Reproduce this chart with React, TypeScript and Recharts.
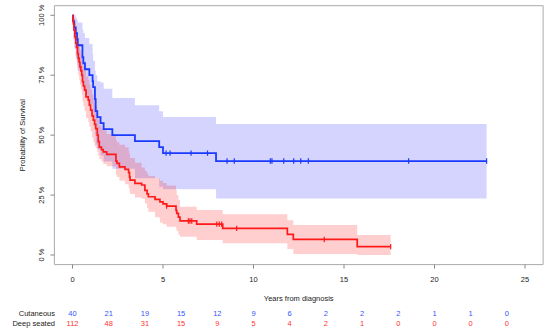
import {
  Area,
  ComposedChart,
  Line,
  ReferenceArea,
  Scatter,
  XAxis,
  YAxis,
} from "recharts";

// Kaplan-Meier estimates (years, % surviving)
const cutTime = [0, 0.03, 0.1, 0.18, 0.25, 0.29, 0.55, 0.6, 0.69, 0.93, 1.11, 1.14, 1.24, 1.28, 1.37, 1.55, 1.72, 2.2, 3.45, 4.79, 5.0, 7.93, 22.88];
const cutSurv = [100, 97.5, 95, 92.5, 90, 87.5, 82.5, 80, 77.5, 75, 72.5, 70, 65, 60, 57.5, 55, 52.5, 50, 47.5, 45, 42.5, 39.2, 39.2];
const cutLower = [100, 90, 86, 82, 79, 77, 72, 69, 66, 63, 60, 57, 50, 46, 44, 41.5, 39, 36, 32, 28.5, 27.4, 23.6, 23.6];
const cutUpper = [100, 100, 100, 99, 98, 97, 94, 92.5, 90.5, 88, 84, 81, 77, 75, 72.5, 72, 69.4, 65.5, 62.5, 60, 57.6, 54.6, 54.6];

const deepTime = [0, 0.02, 0.05, 0.08, 0.13, 0.18, 0.23, 0.28, 0.32, 0.37, 0.41, 0.46, 0.51, 0.55, 0.6, 0.67, 0.75, 0.87, 0.93, 1.0, 1.08, 1.15, 1.22, 1.28, 1.37, 1.42, 1.48, 1.6, 1.7, 1.89, 2.4, 2.46, 2.59, 2.9, 3.1, 3.15, 3.18, 3.45, 3.82, 4.0, 4.12, 4.19, 4.56, 4.83, 5.0, 5.2, 5.72, 5.76, 5.85, 5.94, 6.86, 8.3, 11.87, 12.2, 15.73, 17.58];
const deepSurv = [100, 98.2, 96.4, 93.75, 91.1, 88.4, 86.6, 84, 82, 80.4, 78.5, 76.8, 75, 72.3, 70.5, 68.8, 66, 64.6, 62.5, 60.4, 58, 56.3, 54.5, 52.7, 50, 47.3, 45, 44, 43, 42, 39.2, 38.2, 36.8, 35.7, 34.4, 32.5, 31.2, 29.9, 29.2, 27, 25.5, 24.3, 23.2, 22.2, 21.3, 20.4, 18.6, 17.4, 15.8, 14.2, 12.9, 11.1, 8.6, 6.5, 3.5, 3.5];
const deepLower = [100, 96.5, 93.5, 90, 86.5, 83, 80.5, 77.5, 75, 73, 71, 69, 67, 64, 62, 60, 57, 55.5, 53.5, 51.5, 49, 47, 45.5, 44.5, 43, 41.5, 40, 39, 38, 37, 33.5, 32.5, 31, 29.5, 28, 26.5, 25.5, 24, 23.5, 21.5, 19.5, 18, 15.8, 13.5, 12.8, 11.8, 11, 10, 8.5, 7.6, 6.25, 4.9, 2.5, 0.4, 0, 0];
const deepUpper = [100, 100, 99.5, 98.5, 96.5, 94.5, 92.5, 90.5, 88.5, 87, 85.5, 84, 82, 80, 78.5, 77, 74.5, 73, 71, 69, 67, 65, 63.5, 62, 59, 56.5, 54, 53, 52, 50.5, 48, 47, 46, 45, 43.5, 42, 40.5, 38.5, 36.5, 35, 34, 33, 32, 31, 30, 29, 27, 25, 23, 20.1, 18.75, 17, 14.5, 12.5, 8.3, 8.3];

// censored observations
const cutCensTime = [5.17, 5.39, 6.55, 7.46, 8.54, 8.94, 10.93, 11.02, 11.67, 12.22, 12.61, 13.03, 18.57, 22.88];
const cutCensSurv = [42.5, 42.5, 42.5, 42.5, 39.2, 39.2, 39.2, 39.2, 39.2, 39.2, 39.2, 39.2, 39.2, 39.2];
const deepCensTime = [5.2, 6.4, 6.49, 6.59, 7.97, 8.11, 8.24, 9.07, 13.91, 17.58];
const deepCensSurv = [20.4, 14.2, 14.2, 14.2, 12.9, 12.9, 12.9, 11.1, 6.5, 3.5];

// numbers at risk
const riskTimes = [0, 2, 4, 6, 8, 10, 12, 14, 16, 18, 20, 22, 24];
const riskCut = [40, 21, 19, 15, 12, 9, 6, 2, 2, 2, 1, 1, 0];
const riskDeep = [112, 48, 31, 15, 9, 5, 4, 2, 1, 0, 0, 0, 0];

const yearTicks = [0, 5, 10, 15, 20, 25];
const survTicks = [0, 25, 50, 75, 100];

const BLUE = "#1a3aff";
const RED = "#ff1a1a";
const FONT = 7.5;

const toRows = (t: number[], s: number[], lo: number[], hi: number[]) =>
  t.map((x, i) => ({ t: x, s: s[i], band: [lo[i], hi[i]] }));
const toPoints = (t: number[], s: number[]) => t.map((x, i) => ({ t: x, s: s[i] }));

const cutRows = toRows(cutTime, cutSurv, cutLower, cutUpper);
const deepRows = toRows(deepTime, deepSurv, deepLower, deepUpper);
const cutCens = toPoints(cutCensTime, cutCensSurv);
const deepCens = toPoints(deepCensTime, deepCensSurv);

const xTicks = Array.from(new Set([...yearTicks, ...riskTimes])).sort((a, b) => a - b);

function XTick({ x, y, payload }: any) {
  const v = payload.value;
  const ri = riskTimes.indexOf(v);
  return (
    <g>
      {yearTicks.includes(v) && (
        <>
          <line x1={x} x2={x} y1={y} y2={y + 4} stroke="#888" />
          <text x={x} y={y + 17.6} textAnchor="middle" fontSize={FONT} fill="#222">
            {v}
          </text>
        </>
      )}
      {ri >= 0 && (
        <>
          <text x={x} y={y + 51.2} textAnchor="middle" fontSize={FONT} fill="#3355ff">
            {riskCut[ri]}
          </text>
          <text x={x} y={y + 60.9} textAnchor="middle" fontSize={FONT} fill="#ff3333">
            {riskDeep[ri]}
          </text>
        </>
      )}
      {v === 0 && (
        <>
          <text x={x - 17.5} y={y + 51.2} textAnchor="end" fontSize={FONT} fill="#222">
            Cutaneous
          </text>
          <text x={x - 17.5} y={y + 60.9} textAnchor="end" fontSize={FONT} fill="#222">
            Deep seated
          </text>
        </>
      )}
    </g>
  );
}

function YTick({ x, y, payload }: any) {
  return (
    <g>
      <text x={x} y={y} transform={`rotate(-90 ${x} ${y})`} textAnchor="middle" fontSize={FONT} fill="#222">
        {`${payload.value} %`}
      </text>
      {payload.value === 50 && (
        <text x={25} y={y} transform={`rotate(-90 25 ${y})`} textAnchor="middle" fontSize={FONT} fill="#222">
          Probability of Survival
        </text>
      )}
    </g>
  );
}

const censorMark = (color: string) => (p: any) =>
  <line x1={p.cx} x2={p.cx} y1={p.cy - 2.7} y2={p.cy + 2.7} stroke={color} strokeWidth={1.2} />;

export default function App() {
  return (
    <div
      style={{
        position: "absolute",
        left: 0,
        top: 0,
        width: 550,
        height: 336,
        background: "#fff",
        fontFamily: "'Liberation Sans', Arial, sans-serif",
      }}
    >
      <ComposedChart width={550} height={336} margin={{ top: 5.7, right: 6.9, left: 0, bottom: 0 }}>
        <XAxis
          type="number"
          dataKey="t"
          domain={[-1, 26]}
          ticks={xTicks}
          interval={0}
          allowDataOverflow
          height={71.4}
          axisLine={false}
          tickLine={false}
          tickSize={0}
          tickMargin={0}
          tick={<XTick />}
          label={{ value: "Years from diagnosis", position: "insideTop", offset: 30.6, fontSize: FONT, fill: "#222" }}
        />
        <YAxis
          type="number"
          domain={[-4, 104]}
          ticks={survTicks}
          allowDataOverflow
          width={54.4}
          axisLine={false}
          tickSize={4}
          tickMargin={6.4}
          tickLine={{ stroke: "#888" }}
          tick={<YTick />}
        />
        <ReferenceArea x1={-1} x2={26} y1={-4} y2={104} fill="none" stroke="#aaa" strokeWidth={1} />
        <Area
          data={cutRows}
          dataKey="band"
          type="stepAfter"
          stroke="none"
          fill="#0000ff"
          fillOpacity={0.17}
          isAnimationActive={false}
        />
        <Area
          data={deepRows}
          dataKey="band"
          type="stepAfter"
          stroke="none"
          fill="#ff0000"
          fillOpacity={0.19}
          isAnimationActive={false}
        />
        <Line
          data={cutRows}
          dataKey="s"
          type="stepAfter"
          stroke={BLUE}
          strokeWidth={1.8}
          dot={false}
          isAnimationActive={false}
        />
        <Line
          data={deepRows}
          dataKey="s"
          type="stepAfter"
          stroke={RED}
          strokeWidth={1.7}
          dot={false}
          isAnimationActive={false}
        />
        <Scatter data={cutCens} dataKey="s" shape={censorMark(BLUE)} isAnimationActive={false} />
        <Scatter data={deepCens} dataKey="s" shape={censorMark(RED)} isAnimationActive={false} />
      </ComposedChart>
    </div>
  );
}
